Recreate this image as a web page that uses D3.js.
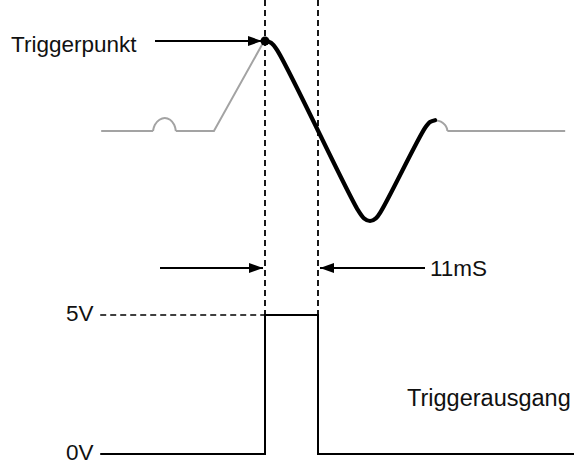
<!DOCTYPE html>
<html>
<head>
<meta charset="utf-8">
<script src="https://cdn.jsdelivr.net/npm/d3@7"></script>
<style>
  body { margin: 0; background: #fff; }
  text { font-family: Arial, "Liberation Sans", sans-serif; font-size: 22.5px; fill: #111; }
</style>
</head>
<body>
<div id="chart"></div>
<script>
// 1. Data (time in ms, ecg amplitude normalised to the R peak)
const grayLeadIn = [[-34.0, 0], [-23.25, 0]];
const grayBump = [[-23.25, 0], [-22.85, 0.07], [-21.9, 0.125], [-20.8, 0.145], [-19.7, 0.125], [-18.85, 0.07], [-18.5, 0]];
const grayRise = [[-18.5, 0], [-10.6, 0], [-0.6, 0.96], [0, 1]];
const blackWave = [[0, 1], [1.25, 0.98], [2.5, 0.9], [19.3, -0.88], [20.55, -0.97], [21.8, -1.0],
                   [23.0, -0.97], [24.1, -0.89], [33.2, 0.033], [34.25, 0.1], [35.3, 0.12]];
const grayArc = [[35.3, 0.12], [36.5, 0.105], [37.35, 0.067], [37.75, 0.03], [37.85, 0]];
const grayTail = [[37.85, 0], [62.3, 0]];

const pulseTimes = [-34.2, 0, 0, 11, 11, 66];
const pulseVolts = [0, 0, 5, 5, 0, 0];
const levelLabels = ["0V", "5V"];
const levelValues = [0, 5];
const markTimes = [0, 11];
const triggerTime = 0;

// 2. Dimensions
const dimensions = { width: 574, height: 463 };

const wrapper = d3.select("#chart")
  .append("svg")
    .attr("width", dimensions.width)
    .attr("height", dimensions.height);

// 3. Scales
const xScale = d3.scaleLinear().domain([0, 11]).range([265, 318]);
const ecgScale = d3.scaleLinear().domain([-1, 1]).range([221, 41]);
const voltScale = d3.scaleLinear().domain([0, 5]).range([454, 315]);

const defs = wrapper.append("defs");
defs.append("marker")
    .attr("id", "head")
    .attr("markerUnits", "userSpaceOnUse")
    .attr("viewBox", "0 0 14 10")
    .attr("refX", 14).attr("refY", 5)
    .attr("markerWidth", 14).attr("markerHeight", 10)
    .attr("orient", "auto")
  .append("path")
    .attr("d", "M0,0 L14,5 L0,10 Z")
    .attr("fill", "#000");

// 4. Dashed guides
wrapper.selectAll(".vguide")
  .data(markTimes)
  .join("line")
    .attr("x1", d => xScale(d)).attr("x2", d => xScale(d))
    .attr("y1", 0).attr("y2", voltScale(5))
    .attr("stroke", "#000")
    .attr("stroke-width", 1.8)
    .attr("stroke-dasharray", "6,4");

wrapper.append("line")
    .attr("x1", xScale(pulseTimes[0])).attr("x2", xScale(0))
    .attr("y1", voltScale(5)).attr("y2", voltScale(5))
    .attr("stroke", "#000")
    .attr("stroke-width", 1.6)
    .attr("stroke-dasharray", "6,4");

// 5. ECG wave
const lineLinear = d3.line().x(d => xScale(d[0])).y(d => ecgScale(d[1]));
const lineSmooth = d3.line().x(d => xScale(d[0])).y(d => ecgScale(d[1])).curve(d3.curveCatmullRom);

[[grayLeadIn, lineLinear], [grayBump, lineSmooth], [grayRise, lineLinear],
 [grayArc, lineSmooth], [grayTail, lineLinear]].forEach(([pts, gen]) => {
  wrapper.append("path")
      .attr("d", gen(pts))
      .attr("fill", "none")
      .attr("stroke", "#a3a3a3")
      .attr("stroke-width", 2);
});

wrapper.append("path")
    .attr("d", lineSmooth(blackWave))
    .attr("fill", "none")
    .attr("stroke", "#000")
    .attr("stroke-width", 4.2)
    .attr("stroke-linecap", "round")
    .attr("stroke-linejoin", "round");

wrapper.append("circle")
    .attr("cx", xScale(triggerTime))
    .attr("cy", ecgScale(1))
    .attr("r", 4.5)
    .attr("fill", "#000");

// 6. Trigger output pulse
const pulseLine = d3.line()
  .x((d, i) => xScale(pulseTimes[i]))
  .y(d => voltScale(d));

wrapper.append("path")
    .attr("d", pulseLine(pulseVolts))
    .attr("fill", "none")
    .attr("stroke", "#000")
    .attr("stroke-width", 2);

// 7. Annotations
wrapper.append("line")
    .attr("x1", 155).attr("x2", xScale(triggerTime) - 3)
    .attr("y1", ecgScale(1)).attr("y2", ecgScale(1))
    .attr("stroke", "#000").attr("stroke-width", 2)
    .attr("marker-end", "url(#head)");

wrapper.append("text")
    .attr("x", 11).attr("y", 51.5)
    .text("Triggerpunkt");

const measureY = 268;
wrapper.append("line")
    .attr("x1", 160).attr("x2", xScale(0) - 2)
    .attr("y1", measureY).attr("y2", measureY)
    .attr("stroke", "#000").attr("stroke-width", 2)
    .attr("marker-end", "url(#head)");

wrapper.append("line")
    .attr("x1", 425).attr("x2", xScale(11) + 2)
    .attr("y1", measureY).attr("y2", measureY)
    .attr("stroke", "#000").attr("stroke-width", 2)
    .attr("marker-end", "url(#head)");

wrapper.append("text")
    .attr("x", 430).attr("y", 275.5)
    .text("11mS");

wrapper.selectAll(".level")
  .data(levelValues)
  .join("text")
    .attr("x", 66)
    .attr("y", d => voltScale(d) + 5.5)
    .text((d, i) => levelLabels[i]);

wrapper.append("text")
    .attr("x", 407).attr("y", 406)
    .style("font-size", "23.5px")
    .text("Triggerausgang");
</script>
</body>
</html>
